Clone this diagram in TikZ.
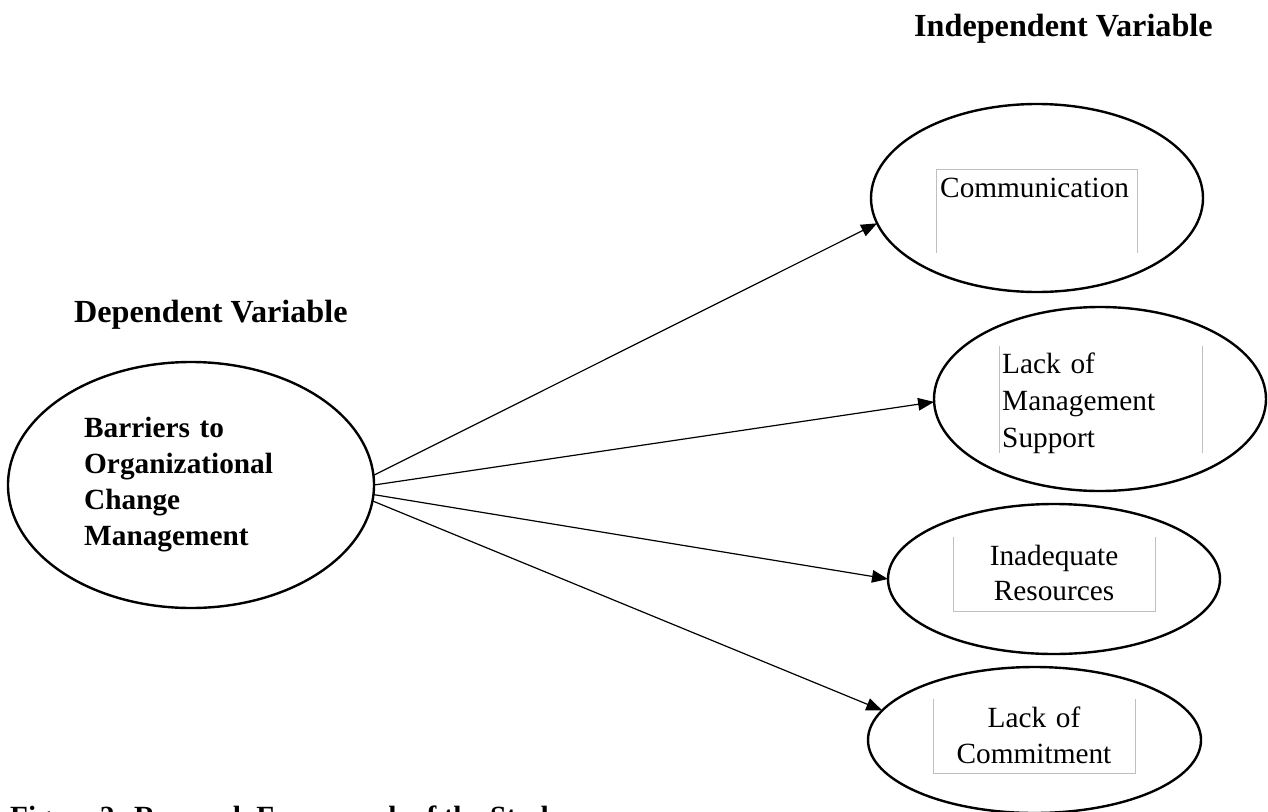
\documentclass[tikz,border=0pt]{standalone}
\usepackage{fontspec}
\setmainfont{Liberation Serif}
\usetikzlibrary{shapes.geometric,arrows.meta}
\begin{document}
\begin{tikzpicture}[x=1pt,y=-1pt,
  ell/.style={ellipse,draw=black,line width=2.4pt,inner sep=0pt,outer sep=0pt},
  arr/.style={line width=1.2pt,-{Triangle[length=16pt,width=12.5pt]}},
  gbox/.style={draw=black!25,line width=1pt},
  head/.style={inner sep=0pt,font=\fontsize{32.2}{38}\selectfont\bfseries},
  lbl/.style={inner sep=0pt,font=\fontsize{29.3}{36}\selectfont\bfseries},
  txt/.style={inner sep=0pt,font=\fontsize{29.3}{36.5}\selectfont}]
\useasboundingbox (0,0) rectangle (1268,811);

% headings
\node[head,anchor=base west] (indep) at (914,36) {Independent Variable};
\node[head,anchor=base west] (dep) at (74,322) {Dependent Variable};
\node[lbl,anchor=base west] (cap) at (10,826.5) {Figure 2: Research Framework of the Study};

% ellipses
\node[ell,minimum width=366pt,minimum height=246pt] (main) at (191,485) {};
\node[ell,minimum width=332pt,minimum height=188pt] (comm) at (1037,198) {};
\node[ell,minimum width=332pt,minimum height=184pt] (lms) at (1100,399) {};
\node[ell,minimum width=332pt,minimum height=150pt] (inad) at (1054,579) {};
\node[ell,minimum width=333pt,minimum height=146pt] (loc) at (1034.5,740) {};

% gray text frames
\draw[gbox] (936,253) -- (936,169) -- (1137,169) -- (1137,253);
\draw[gbox] (999,346) -- (999,453);
\draw[gbox] (1202,346) -- (1202,453);
\draw[gbox] (953,537) -- (953,611) -- (1155,611) -- (1155,537);
\draw[gbox] (933,699) -- (933,773) -- (1135,773) -- (1135,699);

% texts
\node[lbl,anchor=base west,text width=220pt,align=left] (maintxt) at (84,437)
  {Barriers to\\Organizational\\Change\\Management};
\node[txt,anchor=base west] (commtxt) at (940,197) {Communication};
\node[txt,anchor=base west,text width=200pt,align=left,font=\fontsize{29.3}{37}\selectfont] (lmstxt) at (1002,373)
  {Lack of\\Management\\Support};
\node[txt,anchor=base,text width=200pt,align=center,font=\fontsize{29.3}{35}\selectfont] (inadtxt) at (1054,565)
  {Inadequate\\Resources};
\node[txt,anchor=base,text width=200pt,align=center,font=\fontsize{29.3}{36}\selectfont] (loctxt) at (1034,727)
  {Lack of\\Commitment};

% connectors
\draw[arr] (main.3.4) -- (comm.189.6);
\draw[arr] (main.-0.6) -- (lms.181.7);
\draw[arr] (main.-3.7) -- (inad.180);
\draw[arr] (main.-5.9) -- (loc.169.9);
\end{tikzpicture}
\end{document}
